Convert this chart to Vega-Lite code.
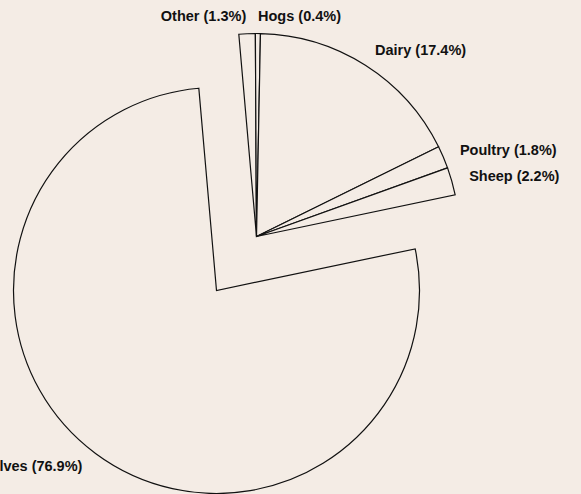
{
  "$schema": "https://vega.github.io/schema/vega-lite/v6.json",
  "width": 513,
  "height": 473,
  "autosize": {"type": "none"},
  "padding": {"left": 0, "top": 0, "right": 68, "bottom": 21},
  "background": "#f4ece5",
  "config": {
    "view": {"stroke": null},
    "text": {"font": "Liberation Sans", "fontWeight": "bold", "fontSize": 14.5, "fill": "#111111", "baseline": "alphabetic"}
  },
  "data": {
    "values": [
      {"category": "Other", "share": 1.3, "order": 1, "label": "Other (1.3%)"},
      {"category": "Hogs", "share": 0.4, "order": 2, "label": "Hogs (0.4%)"},
      {"category": "Dairy", "share": 17.4, "order": 3, "label": "Dairy (17.4%)"},
      {"category": "Poultry", "share": 1.8, "order": 4, "label": "Poultry (1.8%)"},
      {"category": "Sheep", "share": 2.2, "order": 5, "label": "Sheep (2.2%)"},
      {"category": "Cattle and calves", "share": 76.9, "order": 6, "label": "Cattle and calves (76.9%)"}
    ]
  },
  "transform": [
    {"stack": "share", "groupby": [], "sort": [{"field": "order", "order": "ascending"}], "as": ["start", "end"]},
    {"calculate": "(datum.start + datum.end) / 2", "as": "mid"}
  ],
  "layer": [
    {
      "transform": [{"filter": "datum.category != 'Cattle and calves'"}],
      "mark": {"type": "arc", "outerRadius": 203, "fill": "#f4ece5", "stroke": "#111111", "strokeWidth": 1.2},
      "encoding": {
        "theta": {"field": "start", "type": "quantitative", "stack": null, "scale": {"domain": [0, 100], "range": [-0.08727, 6.19592]}},
        "theta2": {"field": "end"}
      }
    },
    {
      "transform": [{"filter": "datum.category == 'Cattle and calves'"}],
      "mark": {"type": "arc", "outerRadius": 203, "fill": "#f4ece5", "stroke": "#111111", "strokeWidth": 1.2, "xOffset": -40, "yOffset": 54},
      "encoding": {
        "theta": {"field": "start", "type": "quantitative", "stack": null, "scale": {"domain": [0, 100], "range": [-0.08727, 6.19592]}},
        "theta2": {"field": "end"}
      }
    },
    {
      "transform": [{"filter": "datum.category == 'Other'"}],
      "mark": {"type": "text", "radius": 221, "dy": 5, "align": "right"},
      "encoding": {
        "theta": {"field": "mid", "type": "quantitative", "stack": null, "scale": {"domain": [0, 100], "range": [-0.08727, 6.19592]}},
        "text": {"field": "label"}
      }
    },
    {
      "transform": [{"filter": "datum.category != 'Other' && datum.category != 'Cattle and calves'"}],
      "mark": {"type": "text", "radius": 221, "dy": 5, "align": "left"},
      "encoding": {
        "theta": {"field": "mid", "type": "quantitative", "stack": null, "scale": {"domain": [0, 100], "range": [-0.08727, 6.19592]}},
        "text": {"field": "label"}
      }
    },
    {
      "transform": [{"filter": "datum.category == 'Cattle and calves'"}],
      "mark": {"type": "text", "radius": 225, "align": "right", "xOffset": -40, "yOffset": 54},
      "encoding": {
        "theta": {"field": "mid", "type": "quantitative", "stack": null, "scale": {"domain": [0, 100], "range": [-0.08727, 6.19592]}},
        "text": {"field": "label"}
      }
    }
  ]
}
